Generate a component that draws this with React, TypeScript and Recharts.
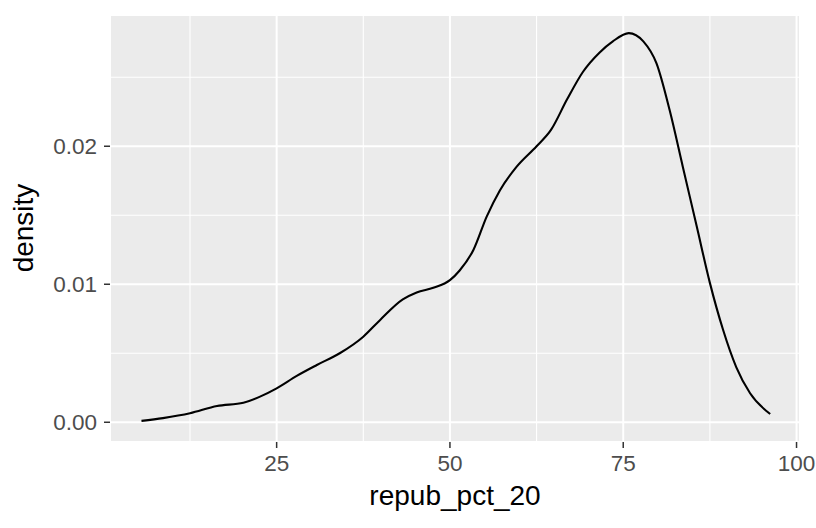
import React from "react";
import { LineChart, Line, XAxis, YAxis, CartesianGrid, ReferenceLine } from "recharts";

const xValues = [5.5, 8.6, 12.5, 16.4, 20.2, 22.6, 25, 27.9, 30.8, 34.1, 37.5, 39.9, 43.2, 45.2, 47.6, 50, 51.4, 53.4, 55.3, 57.2, 59.6, 62.5, 64.6, 66.9, 69.2, 71.6, 73.5, 75.8, 77.9, 79.8, 81.7, 83.6, 85.6, 87.5, 89.4, 91.3, 93.3, 96.2];
const densityValues = [0.0001, 0.0003, 0.00065, 0.00118, 0.00142, 0.00186, 0.00246, 0.00336, 0.00415, 0.005, 0.0062, 0.0074, 0.0089, 0.0094, 0.00975, 0.0103, 0.011, 0.0125, 0.0149, 0.0168, 0.0185, 0.02, 0.0212, 0.0234, 0.0254, 0.0268, 0.0276, 0.0282, 0.0276, 0.026, 0.0226, 0.0185, 0.0142, 0.0101, 0.0067, 0.004, 0.0021, 0.0006];
const xTicks = [25, 50, 75, 100];
const xMinor = [12.5, 37.5, 62.5, 87.5];
const yTicks = [0, 0.01, 0.02];
const yMinor = [0.005, 0.015, 0.025];
const xTitle = "repub_pct_20";
const yTitle = "density";

const data = xValues.map((x, i) => ({ x, density: densityValues[i] }));

const FONT = '"Liberation Sans", Arial, Helvetica, sans-serif';

export default function App() {
  const tickStyle = { fill: "#4D4D4D", fontSize: 22.5, fontFamily: FONT };
  return (
    <div style={{ position: "absolute", left: 0, top: 0, width: 816, height: 528, background: "#fff" }}>
      <LineChart width={816} height={528} data={data} margin={{ top: 15, right: 16, bottom: 46, left: 30 }}>
        <CartesianGrid fill="#EBEBEB" stroke="#FFFFFF" strokeWidth={2} />
        {xMinor.map((v) => (
          <ReferenceLine key={"xm" + v} x={v} stroke="#FFFFFF" strokeWidth={1.1} />
        ))}
        {yMinor.map((v) => (
          <ReferenceLine key={"ym" + v} y={v} stroke="#FFFFFF" strokeWidth={1.1} />
        ))}
        <XAxis
          dataKey="x"
          type="number"
          domain={[0.96, 100.5]}
          ticks={xTicks}
          allowDataOverflow
          axisLine={false}
          tickLine={{ stroke: "#333333", strokeWidth: 1.5 }}
          tickSize={6}
          tickMargin={7}
          height={40}
          tick={tickStyle}
          interval={0}
        />
        <YAxis
          type="number"
          domain={[-0.00143, 0.02951]}
          ticks={yTicks}
          allowDataOverflow
          axisLine={false}
          tickLine={{ stroke: "#333333", strokeWidth: 1.5 }}
          tickSize={6}
          tickMargin={7}
          width={80}
          tick={tickStyle}
          tickFormatter={(v: number) => v.toFixed(2)}
          interval={0}
        />
        <Line
          type="monotone"
          dataKey="density"
          stroke="#000000"
          strokeWidth={2.1}
          dot={false}
          isAnimationActive={false}
        />
      </LineChart>
      <div
        style={{
          position: "absolute",
          left: 455,
          top: 496,
          transform: "translate(-50%, -50%)",
          fontFamily: FONT,
          fontSize: 28,
          color: "#000",
          whiteSpace: "nowrap",
        }}
      >
        {xTitle}
      </div>
      <div
        style={{
          position: "absolute",
          left: 24,
          top: 228,
          transform: "translate(-50%, -50%) rotate(-90deg)",
          fontFamily: FONT,
          fontSize: 28,
          color: "#000",
          whiteSpace: "nowrap",
        }}
      >
        {yTitle}
      </div>
    </div>
  );
}
